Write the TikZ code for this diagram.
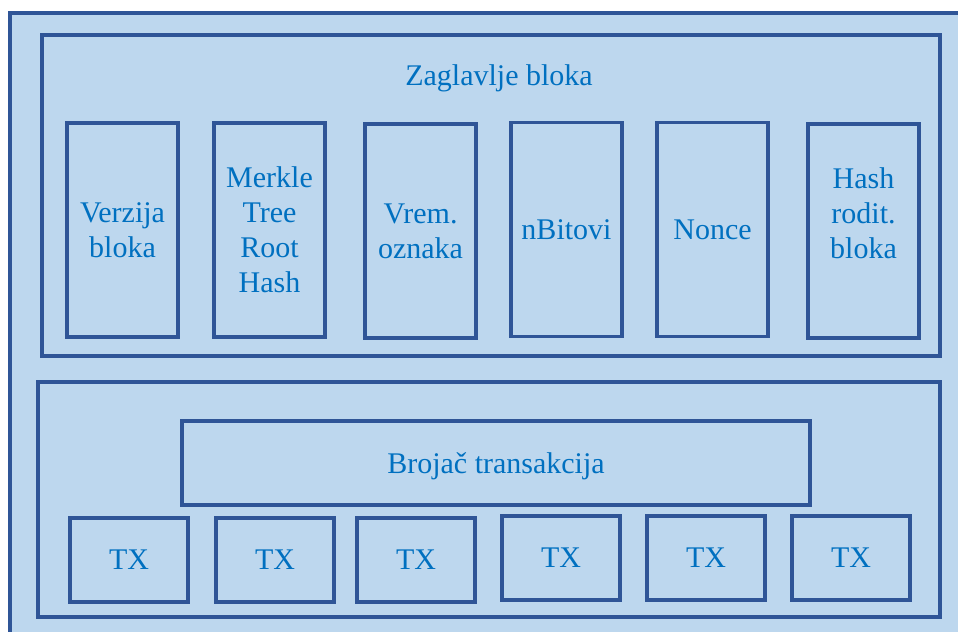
\documentclass[tikz,border=0pt]{standalone}
\usepackage{fontspec}
\setmainfont{Liberation Serif}
\usetikzlibrary{positioning}

\definecolor{poljeFill}{HTML}{BDD7EE}
\definecolor{poljeLine}{HTML}{2F5597}
\definecolor{poljeText}{HTML}{0070C0}

\begin{document}
\begin{tikzpicture}[x=0.75pt, y=-0.75pt,
        okvir/.style={draw=poljeLine, line width=2.6pt, fill=poljeFill, inner sep=0pt},
        polje/.style={okvir, minimum width=83pt, minimum height=160.5pt, align=center, text=poljeText},
        tx/.style={okvir, minimum width=88.5pt, minimum height=63pt, text=poljeText},
        natpis/.style={text=poljeText}]
    \useasboundingbox (0,0) rectangle (958,632);
    \clip (0,0) rectangle (958,632);
    \fontsize{22.5pt}{26.25pt}\selectfont

    % vanjski okvir bloka
    \draw[draw=poljeLine, line width=2.6pt, fill=poljeFill] (10,13) rectangle (990,660);

    % zaglavlje
    \node[okvir, minimum width=673.5pt, minimum height=240.75pt] (zaglavlje) at (491,195.5) {};
    \node[natpis] (naslov) at (499,78) {Zaglavlje bloka};
    \node[polje] (verzija) at (122.5,230) {Verzija\\bloka};
    \node[polje] (merkle) at (269.5,230) {Merkle\\Tree\\Root\\Hash};
    \node[polje] (vrijeme) at (420.5,231) {Vrem.\\oznaka};
    \node[polje] (bitovi) at (566.5,229.5) {nBitovi};
    \node[polje] (nonce) at (712.5,229.5) {Nonce};
    \node[polje] (roditelj) at (863.5,231) {Hash\\rodit.\\bloka\\~};

    % transakcije
    \node[okvir, minimum width=676.5pt, minimum height=176.25pt] (tijelo) at (489,499.5) {};
    \node[okvir, minimum width=471pt, minimum height=63pt, text depth=0pt, text=poljeText] (brojac) at (496,463) {Brojač transakcija};
    \node[tx] (tx1) at (129,560) {TX};
    \node[tx] (tx2) at (275,560) {TX};
    \node[tx] (tx3) at (416,560) {TX};
    \node[tx] (tx4) at (561,558) {TX};
    \node[tx] (tx5) at (706,558) {TX};
    \node[tx] (tx6) at (851,558) {TX};
\end{tikzpicture}
\end{document}
